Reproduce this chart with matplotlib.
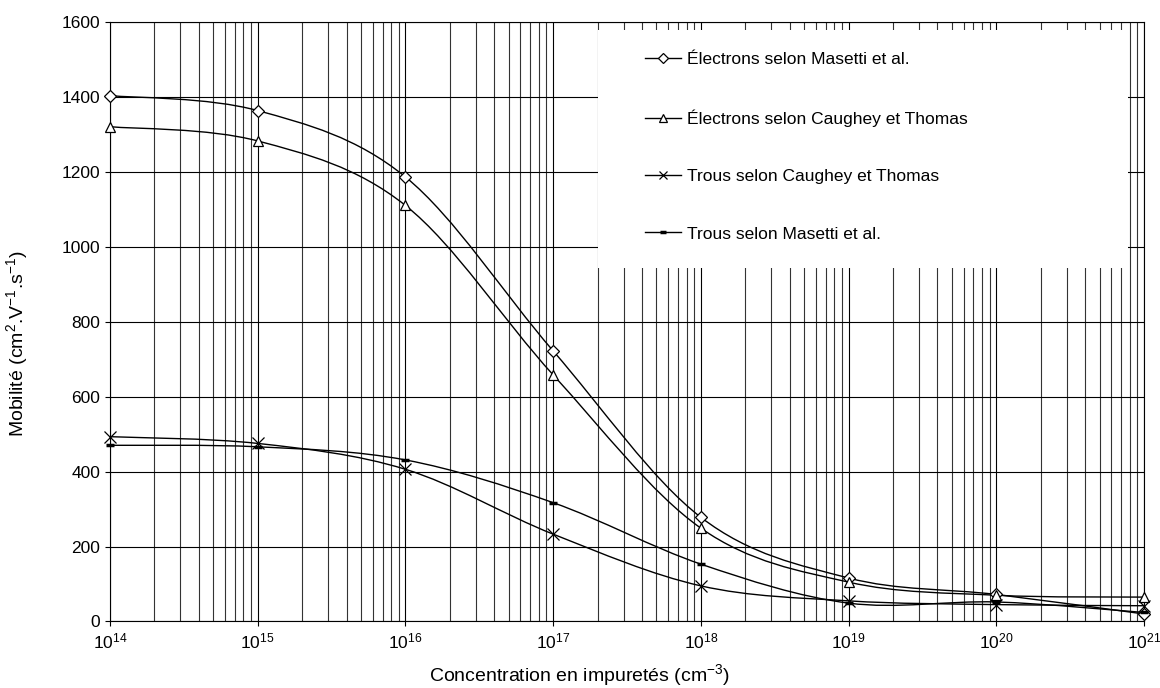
import numpy as np
import matplotlib
matplotlib.use('Agg')
import matplotlib.pyplot as plt
from matplotlib.path import Path
from matplotlib.patches import PathPatch, Rectangle
from matplotlib.lines import Line2D

plt.rcParams['font.family'] = ['Liberation Sans', 'DejaVu Sans']
plt.rcParams['mathtext.fontset'] = 'custom'
plt.rcParams['mathtext.rm'] = 'Liberation Sans'
plt.rcParams['mathtext.it'] = 'Liberation Sans'
plt.rcParams['mathtext.default'] = 'regular'

# values, one point per decade
concentration = [1e14, 1e15, 1e16, 1e17, 1e18, 1e19, 1e20, 1e21]
e_masetti = [1403, 1363, 1186, 722, 278, 116, 72, 20]
e_caughey = [1320, 1282, 1110, 658, 249, 105, 70, 65]
h_caughey = [493, 475, 406, 233, 95, 55, 45, 42]
h_masetti = [470, 466, 431, 317, 153, 49, 52, 24]

labels = ['Électrons selon Masetti et al.',
          'Électrons selon Caughey et Thomas',
          'Trous selon Caughey et Thomas',
          'Trous selon Masetti et al.']


def smooth_path(xs, ys):
    # Excel-like smoothed line: cubic Bezier through each point, built in log-x space
    lx = np.log10(xs)
    pts = np.column_stack([lx, np.asarray(ys, dtype=float)])
    n = len(pts)
    verts = [pts[0]]
    codes = [Path.MOVETO]
    for i in range(n - 1):
        p0 = pts[max(i - 1, 0)]
        p1 = pts[i]
        p2 = pts[i + 1]
        p3 = pts[min(i + 2, n - 1)]
        c1 = p1 + (p2 - p0) / 6.0
        c2 = p2 - (p3 - p1) / 6.0
        verts += [c1, c2, p2]
        codes += [Path.CURVE4] * 3
    verts = np.array(verts)
    verts[:, 0] = 10 ** verts[:, 0]
    return Path(verts, codes)


fig = plt.figure(figsize=(11.6, 6.88), dpi=100)
ax = fig.add_axes([0.0948, 0.0967, 0.8914, 0.8717])
ax.set_xscale('log')
ax.set_xlim(1e14, 1e21)
ax.set_ylim(0, 1600)
ax.set_yticks(range(0, 1601, 200))

ax.grid(True, which='major', axis='both', color='black', lw=0.8)
ax.grid(True, which='minor', axis='x', color='#333333', lw=0.8)
ax.set_axisbelow(True)
for s in ax.spines.values():
    s.set_color('black')
    s.set_linewidth(0.8)

styles = [
    dict(marker='D', ms=6, mfc='white', mec='black', mew=0.9),
    dict(marker='^', ms=7, mfc='white', mec='black', mew=0.9),
    dict(marker='x', ms=8, mfc='none', mec='black', mew=0.9),
    dict(marker='_', ms=6, mfc='black', mec='black', mew=2.5),
]
series = [e_masetti, e_caughey, h_caughey, h_masetti]

for vals, st in zip(series, styles):
    ax.add_patch(PathPatch(smooth_path(concentration, vals), fill=False,
                           ec='black', lw=1.0, zorder=3))
    ax.plot(concentration, vals, ls='none', zorder=4, clip_on=False, **st)

# white area behind the legend, hiding the grid
ax.add_patch(Rectangle((0.472, 0.589), 0.5125, 0.397, transform=ax.transAxes,
                       fc='white', ec='none', zorder=2.5))

handles = [Line2D([], [], color='black', lw=1.0, **st) for st in styles]
ax.legend(handles, labels, loc='upper left', bbox_to_anchor=(0.509, 0.964),
          frameon=False, fontsize=12.5, labelspacing=2.43, handlelength=2.1,
          handletextpad=0.3, borderpad=0, markerscale=0.8)

ax.tick_params(axis='both', which='both', labelsize=12.5, direction='out',
               color='black')
ax.tick_params(axis='x', which='minor', length=0)
ax.set_xlabel('Concentration en impuretés (cm$^{-3}$)', fontsize=14)
ax.set_ylabel('Mobilité (cm$^{2}$.V$^{-1}$.s$^{-1}$)', fontsize=14)
# Excel centres the axis titles on the whole chart area
ax.xaxis.set_label_coords(0.4545, -0.068)
ax.yaxis.set_label_coords(-0.077, 0.463)

fig.savefig('out.png', dpi=100)
